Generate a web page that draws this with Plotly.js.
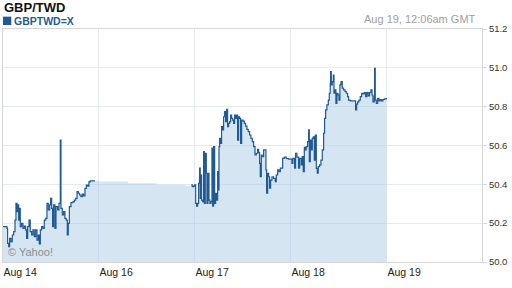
<!DOCTYPE html>
<html>
<head>
<meta charset="utf-8">
<script src="https://cdn.plot.ly/plotly-3.0.1.min.js"></script>
<style>
html,body{margin:0;padding:0;background:#fff;}
#chart{width:512px;height:288px;}
</style>
</head>
<body>
<div id="chart"></div>
<script>
// x positions are in chart "day slots" (0 = Aug 14, 1 = Aug 16, 2 = Aug 17, 3 = Aug 18, 4 = Aug 19)
const tickPositions = [0, 1, 2, 3, 4];
const tickLabels = ['Aug 14', 'Aug 16', 'Aug 17', 'Aug 18', 'Aug 19'];
const yTicks = [50.0, 50.2, 50.4, 50.6, 50.8, 51.0, 51.2];

const seg1X = [0,0.041,0.048,0.059,0.069,0.083,0.097,0.111,0.125,0.135,0.146,0.152,0.163,0.173,0.180,0.194,0.208,0.222,0.236,0.246,0.257,0.271,0.284,0.298,0.312,0.326,0.340,0.354,0.368,0.378,0.389,0.402,0.416,0.430,0.444,0.458,0.472,0.486,0.496,0.507,0.517,0.527,0.541,0.552,0.569,0.583,0.597,0.604,0.618,0.632,0.645,0.659,0.670,0.680,0.691,0.708,0.729,0.743,0.757,0.771,0.785,0.798,0.812,0.826,0.840,0.854,0.868,0.882,0.895,0.909,0.958];
const seg1V = [50.182,50.173,50.096,50.079,50.122,50.105,50.139,50.156,50.216,50.302,50.259,50.294,50.216,50.276,50.182,50.199,50.173,50.185,50.165,50.122,50.182,50.216,50.156,50.139,50.165,50.130,50.165,50.113,50.139,50.093,50.165,50.182,50.173,50.216,50.225,50.302,50.268,50.294,50.328,50.276,50.182,50.294,50.173,50.285,50.268,50.302,50.628,50.276,50.242,50.259,50.225,50.216,50.139,50.199,50.285,50.306,50.311,50.319,50.328,50.362,50.354,50.345,50.336,50.350,50.340,50.379,50.396,50.391,50.413,50.418,50.418];

// weekend gap: area only, no line
const gapX = [1.0, 1.3, 1.6, 1.9];
const gapV = [50.414, 50.405, 50.398, 50.393];

const seg2X = [1.961,1.972,1.986,1.996,2.007,2.017,2.027,2.038,2.048,2.055,
2.062,2.069,2.080,2.090,2.097,2.107,2.118,2.125,2.135,2.146,
2.156,2.166,2.177,2.184,2.194,2.205,2.215,2.225,2.236,2.246,
2.250,2.257,2.267,2.277,2.288,2.298,2.309,2.319,2.330,2.340,
2.350,2.361,2.371,2.382,2.392,2.402,2.413,2.423,2.434,2.444,
2.454,2.465,2.475,2.486,2.500,2.514,2.527,2.541,2.555,2.569,
2.583,2.597,2.611,2.625,2.639,2.652,2.663,2.673,2.680,2.691,
2.701,2.715,2.729,2.739,2.746,2.757,2.767,2.777,2.788,2.802,
2.819,2.836,2.847,2.861,2.875,2.889,2.902,2.913,2.930,2.951,
2.972,2.993,3.010,3.020,3.038,3.048,3.062,3.079,3.090,
3.107,3.118,3.128,3.139,3.149,3.159,3.173,3.184,3.191,3.201,
3.211,3.222,3.232,3.243,3.253,3.264,3.274,3.284,3.298,3.312,
3.326,3.340,3.350,3.361,3.374,3.389,3.399,3.409,3.413,3.420,
3.430,3.441,3.448,3.458,3.468,3.479,3.489,3.500,3.510,3.521,
3.534,3.548,3.562,3.576,3.590,3.600,3.618,3.639,3.659,3.673,
3.684,3.694,3.708,3.722,3.736,3.750,3.764,3.778,3.791,3.805,
3.819,3.833,3.844,3.854,3.868,3.871,3.878,3.889,3.903,3.916,
3.930,3.944,3.958,3.972,3.993];
const seg2V = [50.397,50.388,50.391,50.397,50.302,50.288,50.302,50.405,50.483,50.328,
50.448,50.319,50.311,50.568,50.302,50.560,50.457,50.302,50.457,50.319,
50.302,50.311,50.586,50.288,50.594,50.302,50.354,50.319,50.465,50.371,
50.594,50.637,50.611,50.697,50.680,50.748,50.774,50.723,50.786,50.697,
50.714,50.723,50.757,50.740,50.731,50.714,50.757,50.740,50.757,50.628,
50.748,50.740,50.611,50.731,50.726,50.714,50.700,50.683,50.671,50.654,
50.637,50.620,50.594,50.551,50.560,50.580,50.563,50.508,50.439,50.551,
50.543,50.577,50.577,50.474,50.354,50.457,50.439,50.380,50.422,50.439,
50.431,50.414,50.448,50.474,50.465,50.483,50.483,50.534,50.540,50.533,
50.530,50.530,50.508,50.534,50.483,50.560,50.540,50.483,50.534,
50.500,50.543,50.465,50.590,50.577,50.594,50.620,50.680,50.517,50.628,
50.577,50.637,50.645,50.525,50.654,50.482,50.457,50.491,50.500,50.525,
50.577,50.663,50.740,50.783,50.809,50.834,50.869,50.920,50.980,50.912,
50.929,50.963,50.869,50.886,50.817,50.869,50.860,50.834,50.912,50.929,
50.895,50.886,50.878,50.869,50.852,50.834,50.830,50.830,50.830,50.783,
50.813,50.825,50.834,50.852,50.869,50.866,50.873,50.852,50.873,50.856,
50.873,50.886,50.860,50.825,50.852,50.997,50.834,50.817,50.843,50.830,
50.837,50.830,50.837,50.840,50.845];

const lineColor = '#1f5a96';
const font = 'Liberation Sans, Arial, Helvetica, sans-serif';

const areaTrace = {
  x: seg1X.concat(gapX, seg2X),
  y: seg1V.concat(gapV, seg2V),
  type: 'scatter', mode: 'lines',
  line: {width: 0, shape: 'hv'},
  fill: 'tozeroy',
  fillcolor: 'rgba(171,203,229,0.5)',
  hoverinfo: 'skip', showlegend: false
};
const lineTrace = {
  x: seg1X.concat([1.5], seg2X),
  y: seg1V.concat([null], seg2V),
  type: 'scatter', mode: 'lines',
  connectgaps: false,
  line: {color: lineColor, width: 1.2, shape: 'hv'},
  showlegend: false
};

const layout = {
  width: 512, height: 288,
  margin: {l: 3, r: 30, t: 29, b: 26, pad: 0},
  paper_bgcolor: '#ffffff', plot_bgcolor: '#ffffff',
  font: {family: font, color: '#333333', size: 11},
  showlegend: false,
  xaxis: {
    range: [0, 4.99],
    tickvals: tickPositions, ticktext: tickLabels,
    ticklabelposition: 'outside right',
    showgrid: true, gridcolor: '#e4ebf3', gridwidth: 1,
    zeroline: false,
    showline: true, linecolor: '#d6d6d6', linewidth: 1, mirror: true,
    ticks: '',
    tickfont: {family: font, size: 10.5, color: '#222222'},
    fixedrange: true
  },
  yaxis: {
    range: [50.0, 51.2],
    side: 'right',
    tickvals: yTicks, ticktext: yTicks.map(v => v.toFixed(1)),
    showgrid: true, gridcolor: '#e4ebf3', gridwidth: 1,
    zeroline: false,
    showline: true, linecolor: '#d6d6d6', linewidth: 1, mirror: true,
    ticks: 'outside', ticklen: 4, tickcolor: '#d6d6d6',
    tickfont: {family: font, size: 9.5, color: '#333333'},
    fixedrange: true
  },
  shapes: [
    {type: 'rect', xref: 'paper', yref: 'paper', x0: 0, x1: 0.0173, y0: 1.017, y1: 1.053,
     fillcolor: lineColor, line: {width: 0}}
  ],
  annotations: [
    {text: '<b>GBP/TWD</b>', xref: 'paper', yref: 'paper', x: 0, y: 1.092,
     xanchor: 'left', yanchor: 'middle', showarrow: false, borderpad: 0,
     font: {family: font, size: 13, color: '#111111'}},
    {text: '<b>GBPTWD=X</b>', xref: 'paper', yref: 'paper', x: 0.0203, y: 1.034,
     xanchor: 'left', yanchor: 'middle', showarrow: false, borderpad: 0,
     font: {family: font, size: 10.5, color: lineColor}},
    {text: 'Aug 19, 12:06am GMT', xref: 'paper', yref: 'paper', x: 0.9923, y: 1.043,
     xanchor: 'right', yanchor: 'middle', showarrow: false,
     font: {family: font, size: 11, color: '#a0a0a0'}},
    {text: '© Yahoo!', xref: 'paper', yref: 'paper', x: 0.0063, y: 0.0408,
     xanchor: 'left', yanchor: 'middle', showarrow: false,
     font: {family: font, size: 11, color: '#8e8e8e'}}
  ]
};

Plotly.newPlot('chart', [areaTrace, lineTrace], layout, {staticPlot: true, displayModeBar: false});
</script>
</body>
</html>
